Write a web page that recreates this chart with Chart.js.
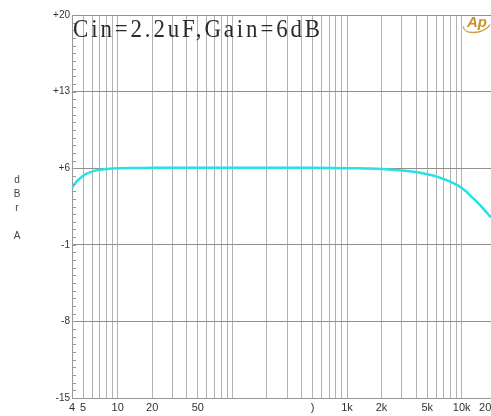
<!DOCTYPE html>
<html>
<head>
<meta charset="utf-8">
<script src="https://cdn.jsdelivr.net/npm/chart.js@4.4.0/dist/chart.umd.min.js"></script>
<style>
    html, body { margin: 0; padding: 0; background: #fff; overflow: hidden; }
    #wrap { width: 491px; height: 416px; position: relative; }
</style>
</head>
<body>
<div id="wrap"><canvas id="chart-resposta" width="491" height="416"></canvas></div>
<script>
// ======================================================
// Resposta em frequência - Cin=2.2uF, Gain=6dB
// ======================================================

const titleText = 'Cin=2.2uF,Gain=6dB';
const yAxisLetters = ['d', 'B', 'r', '', 'A'];

// curva medida (Hz / dBr A)
const freqHz   = [4, 4.4, 5, 5.5, 6.5, 8, 10, 15, 20, 50, 100, 500, 1000, 1500, 2000, 3000, 4000, 5000, 6000, 7000, 8000, 9000, 10000, 11000, 12000, 13500, 15000, 16500, 18000];
const levelDbr = [4.2, 4.8, 5.3, 5.55, 5.8, 5.93, 6.0, 6.02, 6.03, 6.03, 6.03, 6.03, 6.0, 5.97, 5.93, 5.8, 5.65, 5.45, 5.25, 5.0, 4.75, 4.5, 4.2, 3.85, 3.45, 2.95, 2.45, 1.95, 1.5];

// eixos
const yTicks = [-15, -8, -1, 6, 13, 20];
const xGrid = [4, 5, 6, 7, 8, 9, 10, 20, 30, 40, 50, 60, 70, 80, 90,
               100, 200, 300, 400, 500, 600, 700, 800, 900,
               1000, 2000, 3000, 4000, 5000, 6000, 7000, 8000, 9000, 10000, 16000];
const xLabelValues = [4, 5, 10, 20, 50, 500, 1000, 2000, 5000, 10000, 16000];
const xLabelText   = ['4', '5', '10', '20', '50', ')', '1k', '2k', '5k', '10k', '20'];

const overlay = {
    id: 'overlay',
    afterDraw(chart) {
        const ctx = chart.ctx;
        const area = chart.chartArea;
        const y = chart.scales.y;

        // pequenos traços no eixo Y
        ctx.save();
        ctx.strokeStyle = '#999';
        ctx.lineWidth = 1;
        for (let v = -15; v <= 20.001; v += 0.7) {
            const py = Math.round(y.getPixelForValue(v)) + 0.5;
            ctx.beginPath();
            ctx.moveTo(area.left, py);
            ctx.lineTo(area.left + 4, py);
            ctx.stroke();
        }
        ctx.restore();

        // título dentro do gráfico
        ctx.save();
        ctx.fillStyle = '#2a2a2a';
        ctx.font = '26px "Liberation Serif"';
        ctx.textBaseline = 'alphabetic';
        const sx = 0.88;
        const natural = ctx.measureText(titleText).width;
        const target = 250 / sx;
        if ('letterSpacing' in ctx) ctx.letterSpacing = ((target - natural) / titleText.length) + 'px';
        ctx.translate(area.left + 1, 37);
        ctx.scale(sx, 1);
        ctx.fillText(titleText, 0, 0);
        ctx.restore();

        // título do eixo Y (letras empilhadas)
        ctx.save();
        ctx.fillStyle = '#444';
        ctx.font = '10px "Liberation Sans"';
        ctx.textAlign = 'center';
        ctx.textBaseline = 'middle';
        yAxisLetters.forEach((l, i) => ctx.fillText(l, 17, 180 + i * 14));
        ctx.restore();

        // logo Ap
        ctx.save();
        ctx.strokeStyle = '#d0a040';
        ctx.lineWidth = 1.3;
        ctx.beginPath();
        ctx.ellipse(477, 24, 14, 8, -0.25, Math.PI * 0.15, Math.PI * 1.05);
        ctx.stroke();
        ctx.fillStyle = '#c8922a';
        ctx.font = 'italic bold 15px "Liberation Sans"';
        ctx.textAlign = 'center';
        ctx.textBaseline = 'middle';
        ctx.fillText('Ap', 477, 23);
        ctx.restore();
    }
};

new Chart(document.getElementById('chart-resposta'), {
    type: 'line',
    data: {
        datasets: [{
            label: 'Resposta',
            data: freqHz.map((f, i) => ({ x: f, y: levelDbr[i] })),
            borderColor: '#26e2e6',
            borderWidth: 2.5,
            pointRadius: 0,
            tension: 0.4,
            fill: false
        }]
    },
    options: {
        responsive: false,
        animation: false,
        layout: { padding: { top: 15, right: 0, left: 0, bottom: 0 } },
        plugins: {
            legend: { display: false },
            tooltip: { enabled: false }
        },
        scales: {
            x: {
                type: 'logarithmic',
                min: 4,
                max: 18000,
                afterBuildTicks: s => { s.ticks = xGrid.map(v => ({ value: v })); },
                afterFit: s => { s.height = 18; s.paddingLeft = 0; s.paddingRight = 0; },
                border: { color: '#999', width: 1 },
                grid: {
                    color: c => (c.tick && c.tick.value === 16000) ? 'rgba(0,0,0,0)' : '#b2b2b2',
                    drawTicks: false,
                    lineWidth: 1
                },
                ticks: {
                    autoSkip: false,
                    maxRotation: 0,
                    minRotation: 0,
                    padding: 3,
                    color: '#333',
                    font: { family: 'Liberation Sans', size: 11 },
                    callback: function(value) {
                        const i = xLabelValues.indexOf(value);
                        return i >= 0 ? xLabelText[i] : '';
                    }
                }
            },
            y: {
                min: -15,
                max: 20,
                afterBuildTicks: s => { s.ticks = yTicks.map(v => ({ value: v })); },
                afterFit: s => { s.width = 72; },
                border: { color: '#999', width: 1 },
                grid: { color: '#958f86', drawTicks: false, lineWidth: 1 },
                ticks: {
                    padding: 2,
                    color: '#333',
                    font: { family: 'Liberation Sans', size: 10 },
                    callback: v => v > 0 ? '+' + v : String(v)
                }
            }
        }
    },
    plugins: [overlay]
});
</script>
</body>
</html>
